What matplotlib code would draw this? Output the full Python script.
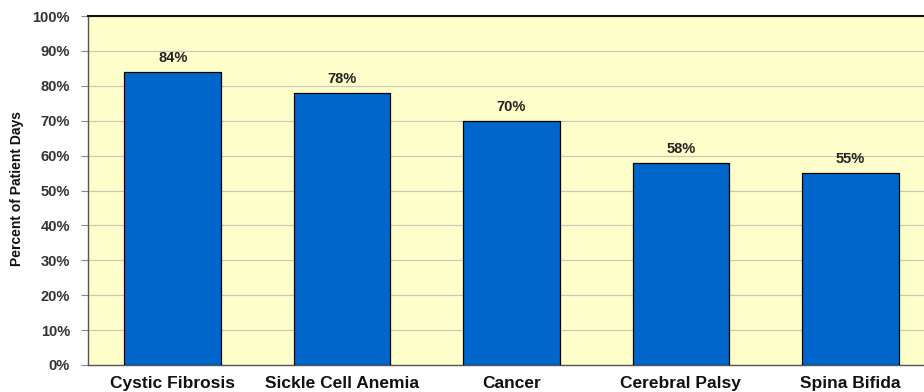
import matplotlib
matplotlib.use("Agg")
import matplotlib.pyplot as plt
import numpy as np

categories = ["Cystic Fibrosis", "Sickle Cell Anemia", "Cancer", "Cerebral Palsy", "Spina Bifida"]
values = [84, 78, 70, 58, 55]
yticks = [0, 10, 20, 30, 40, 50, 60, 70, 80, 90, 100]
ytick_labels = [f"{v}%" for v in yticks]

plt.rcParams['font.family'] = ['Liberation Sans', 'DejaVu Sans']

W, H = 924, 392
fig = plt.figure(figsize=(W / 100, H / 100), dpi=100)
left, right, top, bottom = 88, 935, 16, 365
ax = fig.add_axes([left / W, (H - bottom) / H, (right - left) / W, (bottom - top) / H])
ax.set_facecolor("#FFFFCC")

x = np.arange(len(categories))
ax.bar(x, values, width=0.57, color="#0066CC", edgecolor="black", linewidth=0.9, zorder=3)

for xi, v in zip(x, values):
    ax.annotate(f"{v}%", (xi, v), xytext=(0, 10), textcoords="offset points",
                ha="center", va="center", fontsize=10.5, fontweight="bold", color="#222222")

ax.set_xlim(-0.5, len(categories) - 0.5)
ax.set_ylim(0, 100)
ax.set_yticks(yticks)
ax.set_yticklabels(ytick_labels, fontsize=10.5, fontweight="bold", color="#333333")
ax.set_xticks(x)
ax.set_xticklabels(categories, fontsize=12.5, fontweight="bold", color="#111111")
ax.tick_params(axis="x", length=0, pad=8)
ax.tick_params(axis="y", length=5, color="#888888", width=0.8, pad=8)
ax.yaxis.grid(True, color="#C8C8B4", linewidth=0.9, zorder=0)
ax.set_axisbelow(True)

for s in ["left", "bottom"]:
    ax.spines[s].set_color("#555555")
    ax.spines[s].set_linewidth(1.0)
ax.spines["top"].set_color("#111111")
ax.spines["top"].set_linewidth(1.5)
ax.spines["right"].set_visible(False)

fig.text(17 / W, 1 - 188 / H, "Percent of Patient Days", rotation=90, ha="center", va="center",
         fontsize=10, fontweight="bold", color="#111111",
         family=["Liberation Sans Narrow", "Liberation Sans", "DejaVu Sans"])

fig.savefig("out.png", dpi=100, facecolor="white")
